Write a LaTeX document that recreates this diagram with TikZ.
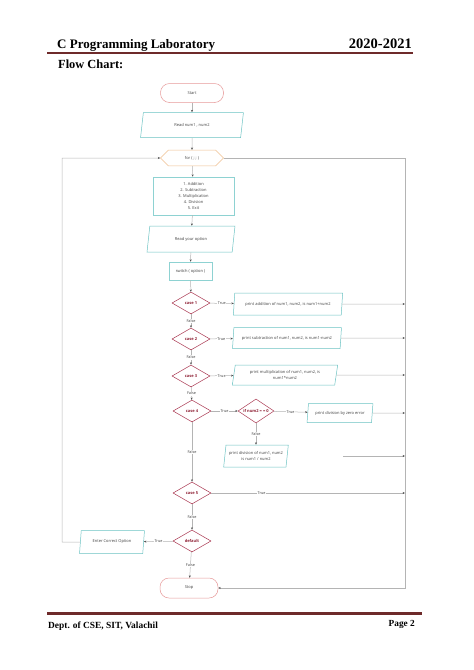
\documentclass[tikz,border=0pt]{standalone}
\usepackage{fontspec}
\setmainfont{Liberation Serif}
\newfontfamily\fcfont{Open Sans}
\usetikzlibrary{shapes.geometric,shapes.misc,arrows.meta}
\definecolor{hdrc}{HTML}{6E2A2A}
\definecolor{ioc}{HTML}{6CC3C3}
\definecolor{procc}{HTML}{8ED2D2}
\definecolor{termc}{HTML}{E79A9A}
\definecolor{decc}{HTML}{A8344E}
\definecolor{casec}{HTML}{8E1F33}
\definecolor{prepc}{HTML}{F0BE8E}
\definecolor{linec}{HTML}{B4B4B4}
\definecolor{tipc}{HTML}{505050}
\definecolor{txtc}{HTML}{404040}
\tikzset{
  fctext/.style={font=\fcfont\fontsize{4}{6}\selectfont, text=txtc},
  conn/.style={draw=linec, line width=0.5pt},
  arr/.style={conn, -{Stealth[length=2.4pt,width=2pt,color=tipc]}},
  term/.style={fctext, draw=termc, line width=0.5pt, rounded corners=9pt, minimum width=63pt, minimum height=19pt, fill=white},
  iobox/.style={fctext, draw=ioc, line width=0.5pt, trapezium, trapezium left angle=79, trapezium right angle=101, trapezium stretches=true, inner sep=1pt, align=center, fill=white},
  proc/.style={fctext, draw=procc, line width=0.5pt, rectangle, inner sep=1pt, align=center, fill=white},
  dec/.style={diamond, draw=decc, line width=0.5pt, minimum width=38pt, minimum height=22pt, inner sep=0pt, aspect=1.7, font=\fcfont\bfseries\fontsize{4}{5}\selectfont, text=casec, fill=white},
  prep/.style={fctext, chamfered rectangle, chamfered rectangle xsep=5pt, chamfered rectangle ysep=5pt, draw=prepc, line width=0.5pt, minimum width=63pt, minimum height=13pt, inner sep=1pt, fill=white},
  lbl/.style={fill=white, inner sep=0.6pt, font=\fcfont\fontsize{3.8}{4}\selectfont, text=txtc},
}
\begin{document}
\begin{tikzpicture}[x=1pt,y=-1pt]
\useasboundingbox (0,0) rectangle (474,670);
% header
\node[anchor=base west, inner sep=0pt, font=\bfseries\fontsize{13}{15}\selectfont] (title) at (57,48) {C Programming Laboratory};
\node[anchor=base east, inner sep=0pt, font=\bfseries\fontsize{14.5}{16}\selectfont] (year) at (412,48) {2020-2021};
\draw[hdrc, line width=2.2pt] (47,53) -- (413,53);
\node[anchor=base west, inner sep=0pt, font=\bfseries\fontsize{12.4}{14}\selectfont] (fc) at (58,68) {Flow Chart:};
% footer
\draw[hdrc, line width=3pt] (47,613) -- (422,613);
\node[anchor=base west, inner sep=0pt, font=\bfseries\fontsize{9.4}{11}\selectfont] (dept) at (48,628) {Dept. of CSE, SIT, Valachil};
\node[anchor=base east, inner sep=0pt, font=\bfseries\fontsize{9.3}{11}\selectfont] (page) at (415,626) {Page 2};
% flowchart nodes
\node[term] (start) at (192,93) {Start};
\node[iobox, minimum width=103pt, minimum height=25pt] (read) at (192,125) {Read num1 , num2};
\node[prep] (for) at (192,158) {for ( ; ; )};
\node[proc, minimum width=81pt, minimum height=38pt] (menu) at (193.5,196) {1. Addition\\2. Subtraction\\3. Multiplication\\4. Division\\5. Exit};
\node[iobox, minimum width=88pt, minimum height=26pt] (ropt) at (191,239) {Read your option};
\node[proc, minimum width=43pt, minimum height=18pt] (sw) at (190.5,271) {switch ( option )};
\node[dec] (c1) at (191,303) {case 1};
\node[dec] (c2) at (191,339) {case 2};
\node[dec] (c3) at (191,376) {case 3};
\node[dec] (c4) at (192,411) {case 4};
\node[dec] (c5) at (192,493) {case 5};
\node[dec] (def) at (192,541) {default};
\node[iobox, minimum width=110pt, minimum height=22pt] (p1) at (288,304) {print addition of num1, num2, is num1+num2};
\node[iobox, minimum width=110pt, minimum height=21pt] (p2) at (287,338) {print subtraction of num1, num2, is num1-num2};
\node[iobox, minimum width=106pt, minimum height=20pt] (p3) at (285,375) {print multiplication of num1, num2, is\\num1*num2};
\node[dec, minimum width=36pt, minimum height=24pt] (ifz) at (256,411) {if num2 = = 0};
\node[iobox, minimum width=66pt, minimum height=19pt] (pz) at (340,413) {print division by zero error};
\node[iobox, minimum width=65pt, minimum height=22pt] (pdiv) at (256,456) {print division of num1, num2\\is num1 / num2};
\node[iobox, minimum width=65pt, minimum height=23pt] (enter) at (112,542) {Enter Correct Option};
\node[term, minimum width=58pt, minimum height=20pt] (stop) at (189,588) {Stop};
% coordinates
\coordinate (r1) at (405,304);
\coordinate (r2) at (405,338);
\coordinate (r3) at (405,375);
\coordinate (r4) at (405,413);
\coordinate (gap) at (343,456);
\coordinate (r5) at (405,456);
\coordinate (r6) at (405,493);
\coordinate (rtop) at (405,158);
\coordinate (ltop) at (62,158);
\coordinate (lbot) at (62,542);
% connectors
\draw[arr] (start) -- (read);
\draw[arr] (read) -- (for);
\draw[arr] (for) -- (menu);
\draw[arr] (menu) -- (ropt);
\draw[arr] (ropt) -- (sw);
\draw[arr] (sw) -- (c1);
\draw[arr] (c1) -- node[lbl]{False} (c2);
\draw[arr] (c2) -- node[lbl]{False} (c3);
\draw[arr] (c3) -- node[lbl]{False} (c4);
\draw[arr] (c4) -- node[lbl]{False} (c5);
\draw[arr] (c5) -- node[lbl]{False} (def);
\draw[arr] (def) -- node[lbl]{False} (stop);
\draw[arr] (c1) -- node[lbl]{True} (p1);
\draw[arr] (c2) -- node[lbl]{True} (p2);
\draw[arr] (c3) -- node[lbl]{True} (p3);
\draw[arr] (c4) -- node[lbl]{True} (ifz);
\draw[arr] (ifz) -- node[lbl]{True} (pz);
\draw[arr] (ifz) -- node[lbl]{False} (pdiv);
\draw[arr] (c5.east) -- node[lbl, pos=0.26]{True} (r6);
\draw[arr] (def) -- node[lbl]{True} (enter);
\draw[arr] (p1) -- (r1);
\draw[arr] (p2) -- (r2);
\draw[arr] (p3) -- (r3);
\draw[arr] (pz) -- (r4);
\draw[arr] (gap) -- (r5);
\draw[arr] (for.east) -- (rtop) |- (stop.east);
\draw[arr] (enter.west) -- (lbot) -- (ltop) -- (for.west);
\end{tikzpicture}
\end{document}
